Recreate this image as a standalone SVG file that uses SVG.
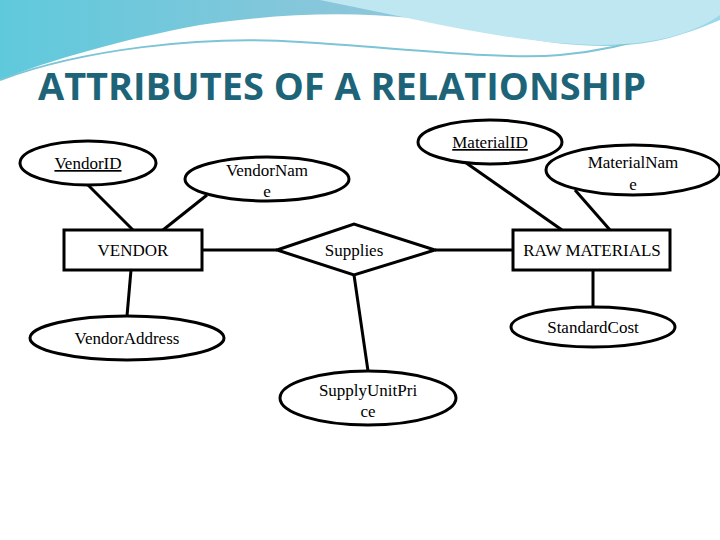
<svg xmlns="http://www.w3.org/2000/svg" width="720" height="540" viewBox="0 0 720 540">
<defs>
<linearGradient id="g" x1="0" y1="0" x2="1" y2="0"><stop offset="0" stop-color="#5fc9dc"/><stop offset="0.5" stop-color="#8cc6da"/><stop offset="1" stop-color="#9ad8ea"/></linearGradient>
<style>
.s{fill:#fff;stroke:#000;stroke-width:3}
.t{font-family:"Liberation Serif",serif;font-size:17px;text-anchor:middle;fill:#000}
.c line{stroke:#000;stroke-width:3}
</style>
</defs>
<rect width="720" height="540" fill="#fff"/>
<path d="M0,0 H720 V20 C650,50 600,55 480,30 C400,10 300,10 200,25 C120,40 50,60 0,80 Z" fill="url(#g)"/>
<path d="M0,80 C80,50 200,35 300,42 C400,48 500,60 560,55 C640,48 700,20 720,5" fill="none" stroke="#7cc4d6" stroke-width="2"/>
<path d="M320,0 C420,20 520,45 600,45 C660,45 700,30 720,15 V0 Z" fill="#bfe7f1"/>
<text x="38" y="100" font-family="Open Sans, sans-serif" font-weight="bold" font-size="38" fill="#1e6478" textLength="608" lengthAdjust="spacingAndGlyphs">ATTRIBUTES OF A RELATIONSHIP</text>
<g class="c">
<line x1="88" y1="185" x2="133" y2="230"/>
<line x1="207" y1="195" x2="163" y2="230"/>
<line x1="202" y1="250" x2="277" y2="250"/>
<line x1="435" y1="250" x2="513" y2="250"/>
<line x1="462" y1="160" x2="562" y2="230"/>
<line x1="575" y1="190" x2="610" y2="230"/>
<line x1="131" y1="270" x2="127" y2="316"/>
<line x1="354" y1="275" x2="368" y2="371"/>
<line x1="593" y1="270" x2="593" y2="307"/>
</g>
<g id="vendorid"><ellipse class="s" cx="88" cy="163" rx="68" ry="22"/><text class="t" x="88" y="169" text-decoration="underline">VendorID</text></g>
<g id="vendorname"><ellipse class="s" cx="267" cy="179" rx="82" ry="22"/><text class="t" x="267" y="176">VendorNam</text><text class="t" x="267" y="197">e</text></g>
<g id="vendor"><rect class="s" x="64" y="230" width="138" height="40"/><text class="t" x="133" y="256">VENDOR</text></g>
<g id="supplies"><polygon class="s" points="277,250 354,224 435,250 354,275"/><text class="t" x="354" y="256">Supplies</text></g>
<g id="materialid"><ellipse class="s" cx="490" cy="142" rx="72" ry="22"/><text class="t" x="490" y="148" text-decoration="underline">MaterialID</text></g>
<g id="materialname"><ellipse class="s" cx="633" cy="170" rx="87" ry="25"/><text class="t" x="633" y="168">MaterialNam</text><text class="t" x="633" y="190">e</text></g>
<g id="raw"><rect class="s" x="513" y="230" width="157" height="40"/><text class="t" x="592" y="256">RAW MATERIALS</text></g>
<g id="stdcost"><ellipse class="s" cx="593" cy="327" rx="82" ry="20"/><text class="t" x="593" y="333">StandardCost</text></g>
<g id="vaddr"><ellipse class="s" cx="127" cy="338" rx="97" ry="22"/><text class="t" x="127" y="344">VendorAddress</text></g>
<g id="price"><ellipse class="s" cx="368" cy="398" rx="88" ry="27"/><text class="t" x="368" y="396">SupplyUnitPri</text><text class="t" x="368" y="417">ce</text></g>
</svg>
